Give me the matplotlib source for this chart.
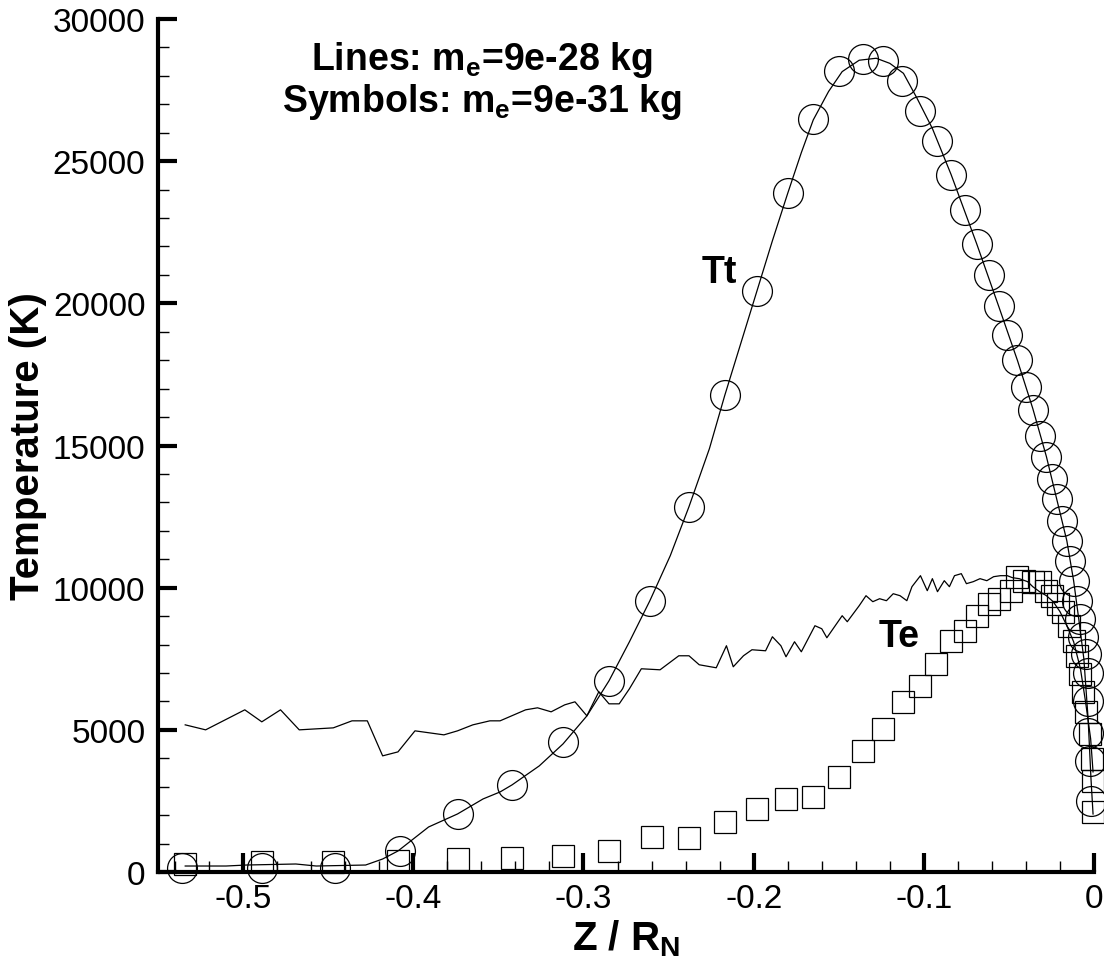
import matplotlib
matplotlib.use("Agg")
import matplotlib.pyplot as plt
from matplotlib.ticker import MultipleLocator

plt.rcParams['font.family'] = ['Liberation Sans', 'DejaVu Sans']
plt.rcParams['mathtext.fontset'] = 'custom'
plt.rcParams['mathtext.rm'] = 'Liberation Sans:bold'
plt.rcParams['mathtext.bf'] = 'Liberation Sans:bold'
plt.rcParams['mathtext.it'] = 'Liberation Sans:bold'

# ---- Lines: m_e = 9e-28 kg ----
tt_line_x = [-0.534, -0.510, -0.498, -0.469, -0.457, -0.428, -0.418, -0.409, -0.391, -0.374,
             -0.359, -0.349, -0.342, -0.326, -0.312, -0.298, -0.285, -0.273, -0.261, -0.249,
             -0.238, -0.226, -0.217, -0.198, -0.189, -0.180, -0.172, -0.165, -0.156, -0.148,
             -0.138, -0.128, -0.120, -0.112, -0.104, -0.095, -0.084, -0.069, -0.056, -0.045,
             -0.036, -0.028, -0.022, -0.016, -0.012, -0.009, -0.006, -0.0035, -0.0018, -0.0006]
tt_line_y = [211, 211, 246, 282, 211, 246, 458, 739, 1584, 2042,
             2570, 2816, 3063, 3731, 4506, 5491, 6725, 8098, 9540, 11125,
             12850, 14890, 16760, 20450, 22200, 23870, 25300, 26450, 27450, 28150,
             28550, 28620, 28440, 28090, 27210, 26150, 24530, 22100, 19890, 17990,
             16300, 14610, 13130, 11650, 10240, 8900, 7500, 5390, 3270, 2040]

te_line_x = [-0.534, -0.522, -0.499, -0.489, -0.478, -0.467, -0.447, -0.436, -0.427, -0.418,
             -0.409, -0.399, -0.382, -0.374, -0.365, -0.355, -0.349, -0.334, -0.327, -0.319,
             -0.311, -0.305, -0.298, -0.291, -0.285, -0.279, -0.273, -0.266, -0.255, -0.244,
             -0.238, -0.232, -0.222, -0.216, -0.212, -0.206, -0.201, -0.193, -0.189, -0.184,
             -0.181, -0.176, -0.172, -0.164, -0.160, -0.157, -0.148, -0.145, -0.138, -0.134,
             -0.130, -0.126, -0.122, -0.118, -0.114, -0.110, -0.107, -0.102, -0.098, -0.095,
             -0.092, -0.088, -0.085, -0.082, -0.078, -0.075, -0.071, -0.067, -0.063, -0.059,
             -0.055, -0.051, -0.048, -0.044, -0.039, -0.036, -0.032, -0.028, -0.024, -0.020,
             -0.016, -0.012, -0.008, -0.005, -0.002, -0.0006]
te_line_y = [5176, 5000, 5704, 5282, 5704, 5000, 5070, 5317, 5317, 4085,
             4225, 4965, 4824, 4965, 5176, 5317, 5317, 5704, 5775, 5634,
             5880, 5986, 5493, 6338, 5915, 5915, 6444, 7148, 7112, 7605,
             7605, 7289, 7183, 7958, 7218, 7605, 7817, 7781, 8274, 7958,
             7570, 8098, 7746, 8662, 8556, 8239, 9014, 8803, 9366, 9718,
             9507, 9612, 9542, 9788, 9718, 9542, 10035, 10422, 9894, 10317,
             9859, 10246, 10035, 10422, 10493, 10141, 10211, 10317, 10246, 10387,
             10422, 10422, 10352, 10317, 10211, 10035, 9859, 9718, 9507, 9155,
             8662, 8098, 7148, 5986, 4683, 3521]

# ---- Symbols: m_e = 9e-31 kg ----
tt_sym_x = [-0.536, -0.489, -0.446, -0.408, -0.374, -0.342, -0.312, -0.285, -0.261, -0.238,
            -0.217, -0.198, -0.180, -0.165, -0.150, -0.136, -0.124, -0.113, -0.102, -0.092,
            -0.084, -0.076, -0.069, -0.062, -0.056, -0.051, -0.045, -0.040, -0.036, -0.032,
            -0.028, -0.025, -0.022, -0.019, -0.016, -0.014, -0.012, -0.010, -0.008, -0.0065,
            -0.005, -0.0035, -0.0035, -0.0035, -0.0025, -0.002]
tt_sym_y = [150, 150, 150, 750, 2050, 3060, 4580, 6730, 9540, 12850,
            16760, 20450, 23870, 26470, 28160, 28580, 28510, 27810, 26750, 25700,
            24530, 23300, 22100, 21010, 19890, 18870, 17990, 17070, 16250, 15350,
            14610, 13830, 13130, 12360, 11650, 10950, 10240, 9540, 8900, 8270,
            7670, 7000, 6000, 4900, 3900, 2500]

te_sym_x = [-0.534, -0.489, -0.447, -0.409, -0.374, -0.342, -0.312, -0.285, -0.260, -0.238,
            -0.217, -0.198, -0.181, -0.165, -0.150, -0.136, -0.124, -0.112, -0.102, -0.093,
            -0.084, -0.076, -0.069, -0.062, -0.056, -0.049, -0.045, -0.041, -0.036, -0.032,
            -0.028, -0.025, -0.021, -0.018, -0.015, -0.012, -0.010, -0.008, -0.0065, -0.0047,
            -0.0024, -0.0012, -0.0006, -0.0006]
te_sym_y = [282, 352, 352, 387, 458, 493, 563, 739, 1232, 1197,
            1761, 2218, 2570, 2641, 3345, 4260, 5035, 5986, 6549, 7324,
            8134, 8486, 9014, 9437, 9612, 9894, 10387, 10246, 10211, 10211,
            9894, 9718, 9437, 9155, 8662, 8134, 7605, 6972, 6338, 5634,
            4859, 3979, 3204, 2113]

x_ticks = [-0.5, -0.4, -0.3, -0.2, -0.1, 0]
x_tick_labels = ['-0.5', '-0.4', '-0.3', '-0.2', '-0.1', '0']
y_ticks = [0, 5000, 10000, 15000, 20000, 25000, 30000]
y_tick_labels = ['0', '5000', '10000', '15000', '20000', '25000', '30000']

fig = plt.figure(figsize=(11.04, 9.62), dpi=100)
ax = fig.add_axes([0.1431, 0.0925, 0.9910 - 0.1431, 0.9792 - 0.0925])

ax.plot(tt_line_x, tt_line_y, color='black', lw=0.9, clip_on=False, zorder=3)
ax.plot(te_line_x, te_line_y, color='black', lw=0.9, clip_on=False, zorder=3)
ax.plot(tt_sym_x, tt_sym_y, linestyle='none', marker='o', ms=21.5, mfc='none',
        mec='black', mew=0.9, clip_on=False, zorder=4)
ax.plot(te_sym_x, te_sym_y, linestyle='none', marker='s', ms=15.5, mfc='none',
        mec='black', mew=0.9, clip_on=False, zorder=4)

ax.set_xlim(-0.55, 0)
ax.set_ylim(0, 30000)
ax.set_xticks(x_ticks)
ax.set_xticklabels(x_tick_labels)
ax.set_yticks(y_ticks)
ax.set_yticklabels(y_tick_labels)
ax.xaxis.set_minor_locator(MultipleLocator(0.02))
ax.yaxis.set_minor_locator(MultipleLocator(1000))

for side in ['top', 'right']:
    ax.spines[side].set_visible(False)
for side in ['left', 'bottom']:
    ax.spines[side].set_linewidth(3.0)

ax.tick_params(which='major', direction='in', length=14, width=3, labelsize=24)
ax.tick_params(which='minor', direction='in', length=8, width=1)
ax.tick_params(axis='y', which='major', pad=9)
ax.tick_params(axis='x', which='major', pad=8)

ax.set_ylabel('Temperature (K)', fontsize=29, fontweight='bold', labelpad=4)
ax.set_xlabel(r'Z / R$_\mathrm{N}$', fontsize=29, fontweight='bold', labelpad=2)

ax.text(-0.2202, 21100, 'Tt', fontsize=27, fontweight='bold', ha='center', va='center')
ax.text(-0.1147, 8300, 'Te', fontsize=27, fontweight='bold', ha='center', va='center')

fig.text(482 / 1104, 1 - 70 / 962, r'Lines: m$_\mathrm{e}$=9e-28 kg', fontsize=27,
         fontweight='bold', ha='center', va='baseline')
fig.text(482 / 1104, 1 - 112 / 962, r'Symbols: m$_\mathrm{e}$=9e-31 kg', fontsize=27,
         fontweight='bold', ha='center', va='baseline')

fig.savefig('out.png', dpi=100)
